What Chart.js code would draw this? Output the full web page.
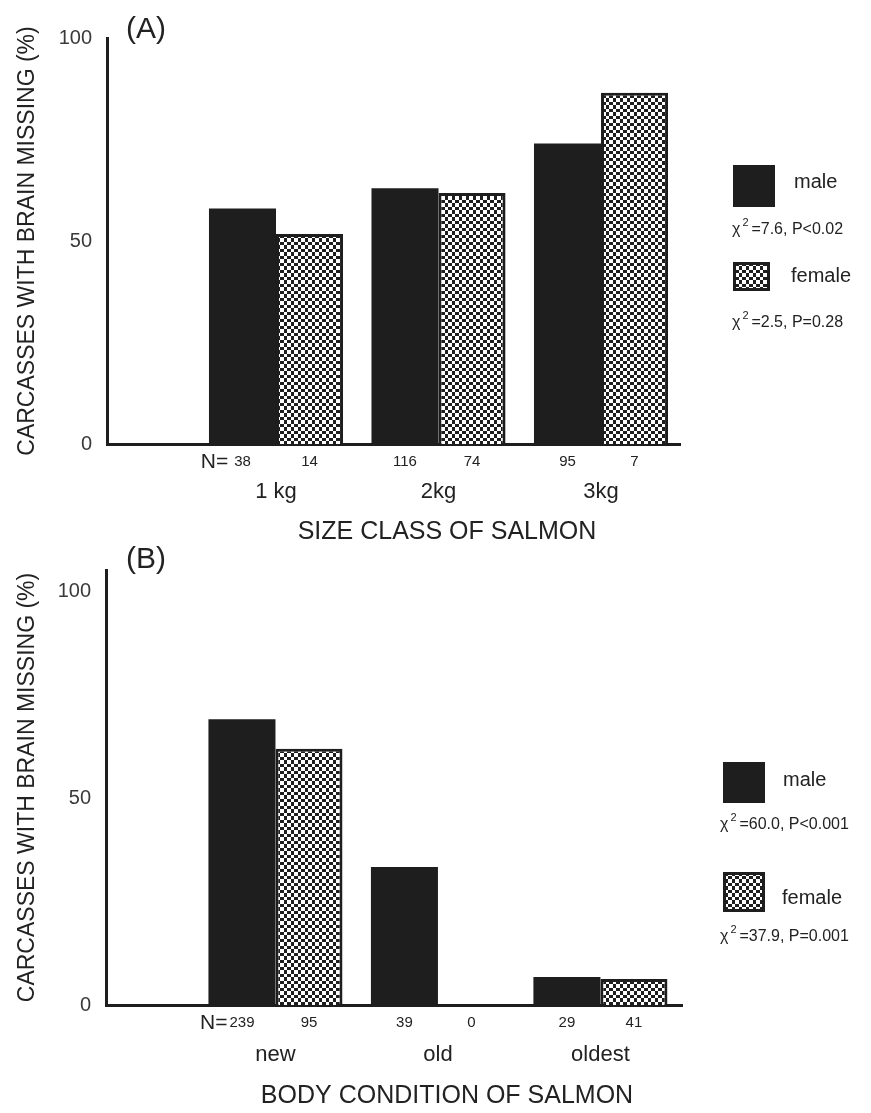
<!DOCTYPE html>
<html>
<head>
<meta charset="utf-8">
<script src="https://cdn.jsdelivr.net/npm/chart.js@4.4.0/dist/chart.umd.min.js"></script>
<style>
  html, body { margin: 0; padding: 0; background: #fff; }
  #wrap { position: relative; width: 871px; height: 1113px; overflow: hidden; background: #fff; }
  #wrap canvas { position: absolute; left: 0; }
  #chartA { top: 0; }
  #chartB { top: 536px; }
</style>
</head>
<body>
<div id="wrap">
  <canvas id="chartA" width="871" height="556"></canvas>
  <canvas id="chartB" width="871" height="577"></canvas>
</div>
<script>
// panel A: size class
const sizeClasses = ['1 kg', '2kg', '3kg'];
const sizeMale = [58, 63, 74];
const sizeFemale = [51.7, 61.8, 86.5];
const sizeMaleN = [38, 116, 95];
const sizeFemaleN = [14, 74, 7];
const sizeStats = ['=7.6, P<0.02', '=2.5, P=0.28'];

// panel B: body condition
const bodyClasses = ['new', 'old', 'oldest'];
const bodyMale = [69.2, 33.4, 6.8];
const bodyFemale = [62.0, 0, 6.3];
const bodyMaleN = [239, 39, 29];
const bodyFemaleN = [95, 0, 41];
const bodyStats = ['=60.0, P<0.001', '=37.9, P=0.001'];

const yTitle = 'CARCASSES WITH BRAIN MISSING (%)';
const yTicks = [0, 50, 100];

const FONT = "'Liberation Sans', Arial, sans-serif";
const TEXT = '#222';
const INK = '#1e1e1e';

Chart.defaults.font.family = FONT;
Chart.defaults.color = TEXT;

// little checkerboard used for the female bars
function checker() {
  const c = document.createElement('canvas');
  c.width = 7; c.height = 7;
  const g = c.getContext('2d');
  g.fillStyle = INK;
  g.fillRect(0, 0, 7, 7);
  g.fillStyle = '#fff';
  g.fillRect(0, 0, 4, 4);
  g.fillRect(4, 4, 3, 3);
  return g.createPattern(c, 'repeat');
}

// draws panel letter, x title, N= counts and the side legend
function extras(cfg) {
  return {
    id: 'extras',
    afterDraw(chart) {
      const ctx = chart.ctx;
      const area = chart.chartArea;
      ctx.save();
      ctx.fillStyle = TEXT;
      ctx.textAlign = 'center';
      ctx.textBaseline = 'middle';
      ctx.font = '30px ' + FONT;
      ctx.fillText(cfg.panel, cfg.panelX, cfg.panelY);
      ctx.font = '25px ' + FONT;
      ctx.fillText(cfg.xTitle, cfg.xTitleX, cfg.xTitleY);

      cfg.counts.forEach((counts, d) => {
        const meta = chart.getDatasetMeta(d);
        counts.forEach((n, i) => {
          const bar = meta.data[i];
          const y = area.bottom + cfg.countOffset;
          ctx.font = '15px ' + FONT;
          ctx.textAlign = 'center';
          ctx.fillText(String(n), bar.x, y);
          if (d === 0 && i === 0) {
            const w = ctx.measureText(String(n)).width;
            ctx.font = '21px ' + FONT;
            ctx.textAlign = 'right';
            ctx.fillText('N=', bar.x - w / 2 - cfg.nGap, y);
          }
        });
      });

      cfg.legend.forEach((item, d) => {
        const ds = chart.data.datasets[d];
        ctx.fillStyle = ds.backgroundColor;
        ctx.fillRect(item.x, item.y, item.w, item.h);
        if (ds.borderWidth) {
          const bw = ds.borderWidth;
          ctx.strokeStyle = ds.borderColor;
          ctx.lineWidth = bw;
          ctx.strokeRect(item.x + bw / 2, item.y + bw / 2, item.w - bw, item.h - bw);
        }
        ctx.fillStyle = TEXT;
        ctx.textAlign = 'left';
        ctx.font = '20px ' + FONT;
        ctx.fillText(ds.label, item.labelX, item.labelY);
        ctx.font = '16px ' + FONT;
        ctx.fillText('\u03c7', item.statX, item.statY);
        const cw = ctx.measureText('\u03c7').width;
        ctx.font = '11px ' + FONT;
        ctx.fillText('2', item.statX + cw + 2, item.statY - 7);
        ctx.font = '16px ' + FONT;
        ctx.fillText(cfg.stats[d], item.statX + cw + 11, item.statY);
      });
      ctx.restore();
    }
  };
}

function makeChart(id, cats, male, female, maleN, femaleN, stats, L) {
  const toPoints = vals => vals.map((v, i) => ({ x: i + 1, y: v }));
  return new Chart(document.getElementById(id), {
    type: 'bar',
    data: {
      datasets: [
        { label: 'male', data: toPoints(male), backgroundColor: INK, borderWidth: 0 },
        { label: 'female', data: toPoints(female), backgroundColor: checker(), borderColor: INK, borderWidth: 3 }
      ]
    },
    options: {
      responsive: false,
      animation: false,
      events: [],
      categoryPercentage: 0.825,
      barPercentage: 1,
      layout: { padding: { left: 0, right: L.padRight, top: L.padTop, bottom: 0 } },
      plugins: { legend: { display: false }, tooltip: { enabled: false } },
      scales: {
        x: {
          type: 'linear',
          offset: false,
          min: L.xMin,
          max: L.xMax,
          afterBuildTicks: s => { s.ticks = cats.map((c, i) => ({ value: i + 1 })); },
          afterFit: s => { s.height = L.axisBottom; },
          grid: { display: false, drawTicks: false },
          border: { display: true, width: 3, color: INK },
          ticks: {
            callback: v => cats[v - 1],
            autoSkip: false,
            maxRotation: 0,
            padding: L.catPad,
            color: TEXT,
            font: { size: 22 }
          }
        },
        y: {
          min: 0,
          max: L.yMax,
          afterBuildTicks: s => { s.ticks = yTicks.map(v => ({ value: v })); },
          afterFit: s => { s.width = L.axisLeft; },
          grid: { display: false, drawTicks: false },
          border: { display: true, width: 3, color: INK },
          ticks: { padding: 15, color: '#3a3a3a', font: { size: 20 } },
          title: {
            display: true,
            text: yTitle,
            color: TEXT,
            font: { size: 23 },
            padding: { top: 14, bottom: 0 }
          }
        }
      }
    },
    plugins: [extras({
      panel: L.panel, panelX: 146, panelY: L.panelY,
      xTitle: L.xTitle, xTitleX: 447, xTitleY: L.xTitleY,
      counts: [maleN, femaleN], countOffset: 18, nGap: L.nGap,
      stats: stats,
      legend: L.legend
    })]
  });
}

makeChart('chartA', sizeClasses, sizeMale, sizeFemale, sizeMaleN, sizeFemaleN, sizeStats, {
  panel: '(A)', panelY: 30,
  xTitle: 'SIZE CLASS OF SALMON', xTitleY: 532,
  padRight: 191, padTop: 38, axisLeft: 107, axisBottom: 112,
  xMin: -0.04, xMax: 3.486, yMax: 100, catPad: 35, nGap: 6,
  legend: [
    { x: 733, y: 165, w: 42, h: 42, labelX: 794, labelY: 182, statX: 732, statY: 230 },
    { x: 733, y: 262, w: 37, h: 29, labelX: 791, labelY: 276, statX: 732, statY: 323 }
  ]
});

makeChart('chartB', bodyClasses, bodyMale, bodyFemale, bodyMaleN, bodyFemaleN, bodyStats, {
  panel: '(B)', panelY: 24,
  xTitle: 'BODY CONDITION OF SALMON', xTitleY: 560,
  padRight: 189, padTop: 34, axisLeft: 106, axisBottom: 108,
  xMin: -0.043, xMax: 3.502, yMax: 105.3, catPad: 37, nGap: 2,
  legend: [
    { x: 723, y: 226, w: 42, h: 41, labelX: 783, labelY: 244, statX: 720, statY: 289 },
    { x: 723, y: 336, w: 42, h: 40, labelX: 782, labelY: 362, statX: 720, statY: 401 }
  ]
});
</script>
</body>
</html>
